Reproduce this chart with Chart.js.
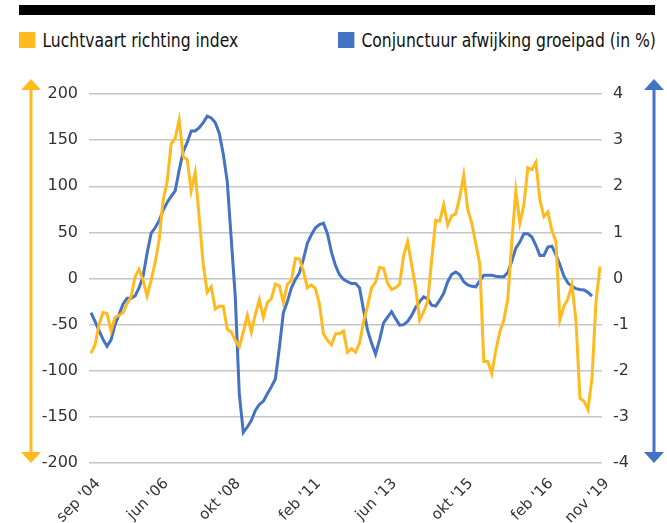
<!DOCTYPE html>
<html>
<head>
<meta charset="utf-8">
<script src="https://cdn.jsdelivr.net/npm/chart.js@4"></script>
<style>
  body { margin: 0; background: #fff; }
  #wrap { position: relative; width: 667px; height: 523px; font-family: "DejaVu Sans", sans-serif; }
  #balk { position: absolute; left: 19px; top: 5px; width: 636px; height: 10px; background: #000; }
  .leg { position: absolute; top: 28px; font-size: 20px; color: #111; white-space: nowrap; transform: scaleX(0.78); transform-origin: left center; }
  .leg span { display: inline-block; width: 21px; height: 16px; margin-right: 9px; vertical-align: -1px; }
  #c { position: absolute; left: 0; top: 0; }
</style>
</head>
<body>
<div id="wrap">
  <div id="balk"></div>
  <div class="leg" style="left:19px"><span style="background:#FFBA1F"></span>Luchtvaart richting index</div>
  <div class="leg" style="left:338px"><span style="background:#4472C4"></span>Conjunctuur afwijking groeipad (in %)</div>
  <canvas id="c" width="667" height="523"></canvas>
</div>
<script>
// x-as labels en op welk punt ze staan
const tickLabels = ["sep '04", "jun '06", "okt '08", "feb '11", "jun '13", "okt '15", "feb '16", "nov '19"];
const tickAt = [0, 17, 35, 55, 74, 93, 113, 127];

// Luchtvaart richting index (linker as)
const luchtvaart = [
  -81, -72, -50, -37, -38, -57, -42, -40, -37, -27,
  -20, 2, 10, -2, -19, -2, 17, 42, 85, 105,
  146, 152, 172, 132, 129, 95, 115, 66, 15, -15,
  -9, -33, -30, -30, -55, -58, -67, -74, -58, -40,
  -58, -39, -23, -42, -26, -22, -6, -8, -26, -6,
  -2, 22, 21, 8, -10, -7, -11, -28, -60, -67,
  -72, -60, -60, -57, -80, -76, -80, -70, -47, -30,
  -10, -4, 12, 11, -5, -12, -10, -6, 25, 40,
  15, -10, -45, -36, -25, 20, 63, 62, 80, 58,
  68, 70, 88, 112, 75, 60, 38, 16, -90, -90,
  -103, -78, -58, -45, -22, 40, 95, 60, 80, 120,
  118, 126, 85, 67, 72, 52, 40, -45, -30, -22,
  -7, -45, -130, -133, -142, -108, -25, 13
];

// Conjunctuur afwijking groeipad in % (rechter as)
const conjunctuur = [
  -0.74, -0.93, -1.13, -1.32, -1.47, -1.33, -1.0, -0.78, -0.55, -0.43,
  -0.43, -0.38, -0.2, 0.05, 0.55, 0.98, 1.1, 1.25, 1.48, 1.65,
  1.78, 1.9, 2.35, 2.75, 2.95, 3.2, 3.2, 3.27, 3.38, 3.52,
  3.48, 3.38, 3.15, 2.7, 2.1, 0.85, -0.4, -2.5, -3.34, -3.22,
  -3.08, -2.86, -2.73, -2.66, -2.5, -2.35, -2.18, -1.5, -0.74, -0.5,
  -0.2, -0.02, 0.12, 0.42, 0.77, 0.95, 1.1, 1.17, 1.2, 0.97,
  0.57, 0.28, 0.08, -0.02, -0.07, -0.11, -0.11, -0.2, -0.68, -1.12,
  -1.4, -1.64, -1.33, -0.96, -0.84, -0.72, -0.87, -1.01, -1.0, -0.93,
  -0.8, -0.63, -0.5, -0.4, -0.44, -0.58, -0.6, -0.47, -0.32, -0.07,
  0.09, 0.14, 0.08, -0.07, -0.14, -0.17, -0.18, -0.05, 0.07, 0.07,
  0.07, 0.05, 0.04, 0.04, 0.13, 0.38, 0.66, 0.79, 0.97, 0.97,
  0.9, 0.72, 0.5, 0.5, 0.68, 0.7, 0.52, 0.3, 0.05, -0.1,
  -0.17, -0.22, -0.24, -0.25, -0.3, -0.38, null, null
];

const GEEL = '#FFBA1F';
const BLAUW = '#4472C4';
const FONT = '"DejaVu Sans", sans-serif';

// category labels: alleen tekst op de tick-posities
const labels = luchtvaart.map((v, i) => {
  const k = tickAt.indexOf(i);
  return k >= 0 ? tickLabels[k] : '';
});

// pijlen langs de assen
const pijlen = {
  id: 'pijlen',
  afterDraw(chart) {
    const ctx = chart.ctx;
    function pijl(x, kleur) {
      const top = 79, bot = 463;
      ctx.save();
      ctx.strokeStyle = kleur;
      ctx.fillStyle = kleur;
      ctx.lineWidth = 3;
      ctx.beginPath();
      ctx.moveTo(x, top + 8);
      ctx.lineTo(x, bot - 8);
      ctx.stroke();
      ctx.beginPath();
      ctx.moveTo(x, top);
      ctx.lineTo(x - 10, top + 11);
      ctx.lineTo(x + 10, top + 11);
      ctx.closePath();
      ctx.fill();
      ctx.beginPath();
      ctx.moveTo(x, bot);
      ctx.lineTo(x - 10, bot - 11);
      ctx.lineTo(x + 10, bot - 11);
      ctx.closePath();
      ctx.fill();
      ctx.restore();
    }
    pijl(31, GEEL);
    pijl(654, BLAUW);
  }
};

new Chart(document.getElementById('c'), {
  type: 'line',
  data: {
    labels: labels,
    datasets: [
      {
        label: 'Luchtvaart richting index',
        data: luchtvaart,
        borderColor: GEEL,
        borderWidth: 3,
        pointRadius: 0,
        tension: 0,
        yAxisID: 'y'
      },
      {
        label: 'Conjunctuur afwijking groeipad (in %)',
        data: conjunctuur,
        borderColor: BLAUW,
        borderWidth: 3,
        pointRadius: 0,
        tension: 0,
        spanGaps: false,
        yAxisID: 'y2'
      }
    ]
  },
  options: {
    responsive: false,
    animation: false,
    layout: { padding: { top: 94, left: 0, right: 0, bottom: 0 } },
    plugins: {
      legend: { display: false },
      tooltip: { enabled: false }
    },
    scales: {
      x: {
        offset: true,
        grid: { display: false },
        border: { display: false },
        ticks: {
          autoSkip: false,
          maxRotation: 45,
          minRotation: 45,
          padding: 4,
          labelOffset: 7,
          color: '#333',
          font: { family: FONT, size: 15 },
          callback: (v, i) => labels[i]
        },
        afterFit: (s) => { s.height = 60; }
      },
      y: {
        position: 'left',
        min: -200,
        max: 200,
        grid: { color: '#c6c6c6', lineWidth: 1.5, drawTicks: false },
        border: { display: false },
        ticks: {
          stepSize: 50,
          padding: 11,
          color: '#333',
          font: { family: FONT, size: 16 }
        },
        afterFit: (s) => { s.width = 89; }
      },
      y2: {
        position: 'right',
        min: -4,
        max: 4,
        grid: { display: false, drawTicks: false },
        border: { display: false },
        ticks: {
          stepSize: 1,
          padding: 11,
          color: '#333',
          font: { family: FONT, size: 16 }
        },
        afterFit: (s) => { s.width = 65; }
      }
    }
  },
  plugins: [pijlen]
});
</script>
</body>
</html>
